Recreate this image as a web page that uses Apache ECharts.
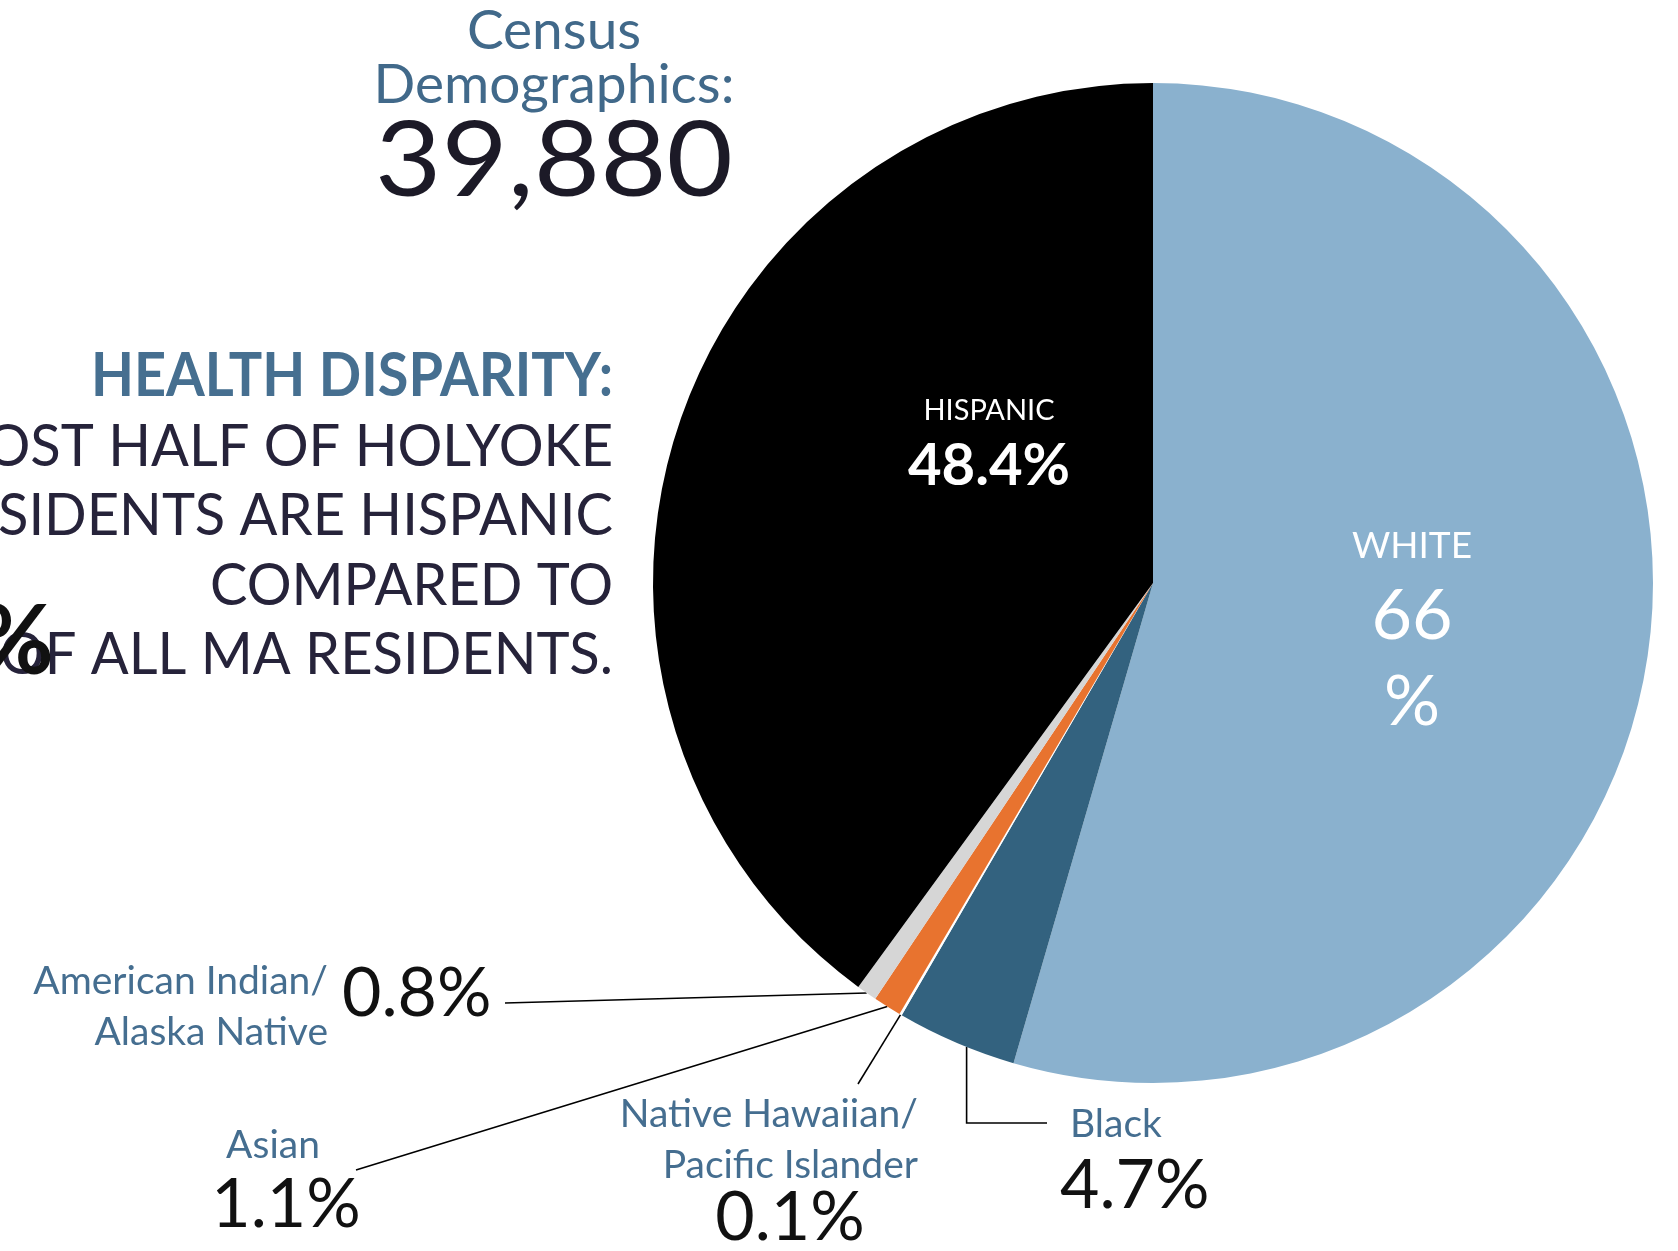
<!DOCTYPE html>
<html><head><meta charset="utf-8">
<script src="https://cdn.jsdelivr.net/npm/echarts@6/dist/echarts.min.js"></script>
<style>html,body{margin:0;padding:0;background:#fff}#c{width:1678px;height:1251px}</style>
</head><body><div id="c"></div>
<script>
// ---------- data ----------
const categories = ['White', 'Black', 'Native Hawaiian/\nPacific Islander', 'Asian', 'American Indian/\nAlaska Native', 'Hispanic'];
const percentages = [66, 4.7, 0.1, 1.1, 0.8, 48.4];
const valueTexts = ['66\n%', '4.7%', '0.1%', '1.1%', '0.8%', '48.4%'];
const insideNames = ['WHITE', '', '', '', '', 'HISPANIC'];
const titleLines = ['Census', 'Demographics:'];
const totalPopulation = '39,880';
const disparityHeading = 'HEALTH DISPARITY:';
const disparityLines = ['ALMOST HALF OF HOLYOKE', 'RESIDENTS ARE HISPANIC', 'COMPARED TO', 'OF ALL MA RESIDENTS.'];
const maHispanicShare = '12%';

// ---------- styles / layout ----------
const palette = ['#8AB1CE', '#33627F', '#FFFFFF', '#E8732F', '#D6D6D6', '#000000'];
const BLUE = '#456E90', DARK = '#26233A', FONT = 'Lato';
const CX = 1153, CY = 583, R = 500;
const valuePos = [
  {x: 1412, y: 632, align: 'center'},
  {x: 1060, y: 1186, align: 'left', end: 'elbow', ey: 1123, ex: 1047, shiftDeg: -1.3},
  {x: 790, y: 1218, align: 'center', ex: 858, ey: 1084},
  {x: 286, y: 1205, align: 'center', ex: 356, ey: 1170},
  {x: 342, y: 994, align: 'left', ex: 505, ey: 1003},
  {x: 989, y: 444, align: 'center'}
];
const namePos = [
  null,
  {x: 1070, y: 1124, align: 'left'},
  {x: 918, y: 1140, align: 'right'},
  {x: 273, y: 1145, align: 'center'},
  {x: 328, y: 1007, align: 'right'},
  null
];

const chart = echarts.init(document.getElementById('c'), null, {renderer: 'canvas'});

const valueData = percentages.map((v, i) => {
  const big = i === 0 || i === 5;
  let fmt;
  if (i === 0) fmt = '{a|' + insideNames[i] + '}\n' + valueTexts[i].split('\n').map(s => '{w|' + s + '}').join('\n');
  else if (i === 5) fmt = '{h|' + insideNames[i] + '}\n{hv|' + valueTexts[i] + '}';
  else fmt = '{v|' + valueTexts[i] + '}';
  return {
    name: categories[i], value: v,
    itemStyle: {color: palette[i]},
    label: {show: true, formatter: fmt, align: valuePos[i].align},
    labelLine: {show: !big, lineStyle: {color: '#000', width: 1.6}}
  };
});

const nameData = percentages.map((v, i) => ({
  name: categories[i], value: v,
  label: {show: !!namePos[i], formatter: categories[i], align: namePos[i] ? namePos[i].align : 'center'},
  labelLine: {show: false}
}));

const graphic = [];
titleLines.forEach((t, k) => graphic.push({
  type: 'text', x: 554, y: 31 + k * 54,
  style: {text: t, fill: '#41698A', fontSize: 55, fontFamily: FONT, align: 'center', verticalAlign: 'middle'}
}));
graphic.push({
  type: 'text', x: 554, y: 162, scaleX: 1.09,
  style: {text: totalPopulation, fill: '#1C1A27', fontSize: 105, fontFamily: FONT, align: 'center', verticalAlign: 'middle'}
});
graphic.push({
  type: 'text', x: 613, y: 376, scaleX: 0.9,
  style: {text: disparityHeading, fill: '#466F90', fontSize: 62, fontWeight: 'bold', fontFamily: FONT, align: 'right', verticalAlign: 'middle'}
});
disparityLines.forEach((t, k) => graphic.push({
  type: 'text', x: 613, y: 447 + k * 69.3, scaleX: 0.95,
  style: {text: t, fill: DARK, fontSize: 59, fontFamily: FONT, align: 'right', verticalAlign: 'middle'}
}));
graphic.push({
  type: 'text', x: 54, y: 643,
  style: {text: maHispanicShare, fill: '#111111', fontSize: 96, fontWeight: 'bold', fontFamily: FONT, align: 'right', verticalAlign: 'middle'}
});

function rotateAboutCenter(pt, deg) {
  if (!deg) return pt;
  const a = Math.atan2(pt[1] - CY, pt[0] - CX) + deg * Math.PI / 180;
  const r = Math.hypot(pt[0] - CX, pt[1] - CY);
  return [CX + r * Math.cos(a), CY + r * Math.sin(a)];
}

chart.setOption({
  animation: false,
  backgroundColor: '#ffffff',
  graphic: graphic,
  series: [
    {
      type: 'pie', center: [CX, CY], radius: R, startAngle: 90, clockwise: true,
      avoidLabelOverlap: false, silent: true, minAngle: 0,
      itemStyle: {borderWidth: 0},
      label: {
        fontFamily: FONT, color: '#111',
        rich: {
          a: {fontFamily: FONT, fontSize: 37, color: '#fff', lineHeight: 54},
          w: {fontFamily: FONT, fontSize: 70, color: '#fff', lineHeight: 86},
          h: {fontFamily: FONT, fontSize: 29, color: '#fff', lineHeight: 44},
          hv: {fontFamily: FONT, fontSize: 58, color: '#fff', lineHeight: 66, fontWeight: 'bold'},
          v: {fontFamily: FONT, fontSize: 68, color: '#111', lineHeight: 76}
        }
      },
      labelLayout: function (p) {
        const L = valuePos[p.dataIndex];
        const out = {x: L.x, y: L.y, align: L.align, verticalAlign: 'middle'};
        if (L.ex != null && p.labelLinePoints) {
          const s = rotateAboutCenter(p.labelLinePoints[0], L.shiftDeg || 0);
          if (L.end === 'elbow') out.labelLinePoints = [s, [s[0], L.ey], [L.ex, L.ey]];
          else out.labelLinePoints = [s, [(s[0] + L.ex) / 2, (s[1] + L.ey) / 2], [L.ex, L.ey]];
        }
        return out;
      },
      data: valueData
    },
    {
      type: 'pie', center: [CX, CY], radius: R, startAngle: 90, clockwise: true,
      avoidLabelOverlap: false, silent: true,
      itemStyle: {color: 'rgba(0,0,0,0)', borderWidth: 0},
      label: {fontFamily: FONT, fontSize: 39, color: BLUE, lineHeight: 51},
      labelLayout: function (p) {
        const L = namePos[p.dataIndex];
        if (!L) return {};
        return {x: L.x, y: L.y, align: L.align, verticalAlign: 'middle'};
      },
      data: nameData
    }
  ]
});
</script></body></html>
